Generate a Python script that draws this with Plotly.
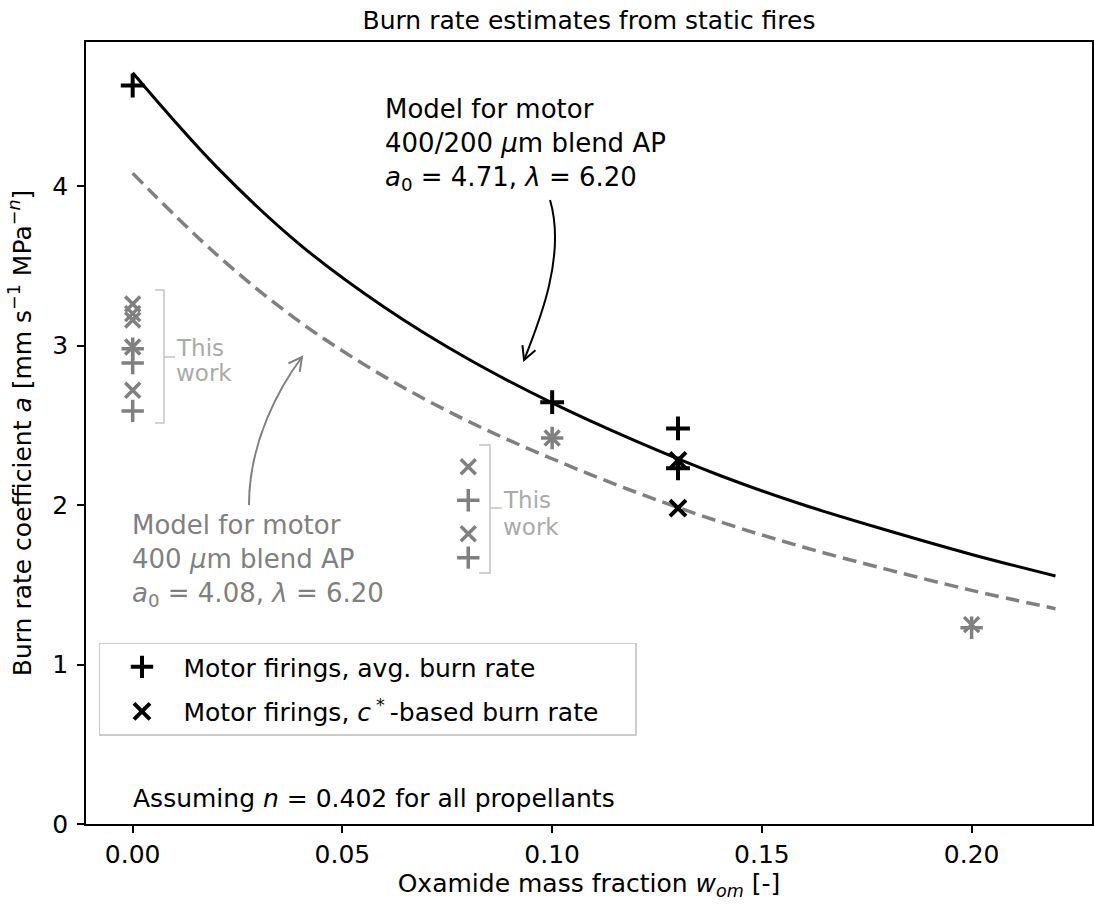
import plotly.graph_objects as go

# ---------------- data ----------------
w_model = [0.00, 0.02, 0.04, 0.06, 0.08, 0.10, 0.12, 0.14, 0.16, 0.18, 0.20, 0.22]
a_model_blend = [4.71, 4.12, 3.63, 3.24, 2.915, 2.64, 2.40, 2.185, 2.00, 1.84, 1.69, 1.555]
a_model_400 = [4.08, 3.57, 3.145, 2.805, 2.525, 2.29, 2.08, 1.895, 1.735, 1.595, 1.465, 1.35]

w_avg = [0.00, 0.10, 0.13, 0.13]
a_avg = [4.63, 2.645, 2.48, 2.23]
w_cstar = [0.13, 0.13]
a_cstar = [2.28, 1.98]

w_this_avg = [0.00, 0.00, 0.00, 0.08, 0.08, 0.10, 0.20]
a_this_avg = [2.98, 2.89, 2.59, 2.03, 1.67, 2.42, 1.23]
w_this_cstar = [0.00, 0.00, 0.00, 0.00, 0.00, 0.08, 0.08, 0.10, 0.20]
a_this_cstar = [3.26, 3.20, 3.16, 2.99, 2.72, 2.24, 1.82, 2.42, 1.25]

x_ticks = [0.00, 0.05, 0.10, 0.15, 0.20]
x_tick_labels = ["0.00", "0.05", "0.10", "0.15", "0.20"]
y_ticks = [0, 1, 2, 3, 4]
y_tick_labels = ["0", "1", "2", "3", "4"]

FONT = "DejaVu Sans"
GRAY = "#808080"
LIGHT = "#aaaaaa"
BRACKET = "#c4c4c4"
NB = "\u00a0"

fig = go.Figure()

fig.add_trace(go.Scatter(x=w_model, y=a_model_blend, mode="lines",
                         line=dict(color="black", width=3, shape="spline", smoothing=1.0),
                         showlegend=False, hoverinfo="skip"))
fig.add_trace(go.Scatter(x=w_model, y=a_model_400, mode="lines",
                         line=dict(color=GRAY, width=3.5, dash="14px,7px", shape="spline", smoothing=1.0),
                         showlegend=False, hoverinfo="skip"))

fig.add_trace(go.Scatter(x=w_this_avg, y=a_this_avg, mode="markers",
                         marker=dict(symbol="cross-thin", size=16, color=GRAY, line=dict(color=GRAY, width=3.5)),
                         showlegend=False))
fig.add_trace(go.Scatter(x=w_this_cstar, y=a_this_cstar, mode="markers",
                         marker=dict(symbol="x-thin", size=15, color=GRAY, line=dict(color=GRAY, width=3.5)),
                         showlegend=False))

fig.add_trace(go.Scatter(x=w_avg, y=a_avg, mode="markers", name="Motor firings, avg. burn rate",
                         legendgroup="avg",
                         marker=dict(symbol="cross-thin", size=17, color="black", line=dict(color="black", width=4))))
fig.add_trace(go.Scatter(x=w_cstar, y=a_cstar, mode="markers",
                         name="Motor firings, <i>c</i>\u2009<sup>*</sup>\u2009-based burn rate" + NB * 4,
                         legendgroup="cstar",
                         marker=dict(symbol="x-thin", size=16, color="black", line=dict(color="black", width=4))))

shapes = []
# curved arrow (black)
shapes.append(dict(type="path", xref="x", yref="y",
                   path="M 0.09950,3.912 C 0.10331,3.567 0.09711,3.160 0.09330,2.909",
                   line=dict(color="black", width=2)))
shapes.append(dict(type="path", xref="x", yref="y",
                   path="M 0.09602,2.970 L 0.09330,2.909 L 0.09292,3.003",
                   line=dict(color="black", width=2)))
# curved arrow (gray)
shapes.append(dict(type="path", xref="x", yref="y",
                   path="M 0.02773,2.000 C 0.02773,2.408 0.03536,2.752 0.04037,2.928",
                   line=dict(color=GRAY, width=2)))
shapes.append(dict(type="path", xref="x", yref="y",
                   path="M 0.03712,2.888 L 0.04037,2.928 L 0.03982,2.835",
                   line=dict(color=GRAY, width=2)))
# brackets
shapes.append(dict(type="path", xref="x", yref="y",
                   path="M 0.00532,3.348 L 0.00746,3.348 L 0.00746,2.514 L 0.00532,2.514 M 0.00746,2.928 L 0.01009,2.928",
                   line=dict(color=BRACKET, width=1.5)))
shapes.append(dict(type="path", xref="x", yref="y",
                   path="M 0.08257,2.376 L 0.08519,2.376 L 0.08519,1.574 L 0.08257,1.574 M 0.08519,1.981 L 0.08806,1.981",
                   line=dict(color=BRACKET, width=1.5)))

annotations = [
    dict(x=0.0597, y=4.262, xref="x", yref="y", xanchor="left", yanchor="middle", showarrow=False, align="left",
         text="Model for motor<br>400/200 <i>μ</i>m blend AP<br><i>a</i><sub>0</sub> = 4.71, <i>λ</i> = 6.20",
         font=dict(family=FONT, size=26, color="black")),
    dict(x=-0.0007, y=1.650, xref="x", yref="y", xanchor="left", yanchor="middle", showarrow=False, align="left",
         text="Model for motor<br>400 <i>μ</i>m blend AP<br><i>a</i><sub>0</sub> = 4.08, <i>λ</i> = 6.20",
         font=dict(family=FONT, size=26, color=GRAY)),
    dict(x=0.0098, y=2.985, xref="x", yref="y", xanchor="left", yanchor="middle", showarrow=False,
         text="This", font=dict(family=FONT, size=23, color=LIGHT)),
    dict(x=0.0098, y=2.828, xref="x", yref="y", xanchor="left", yanchor="middle", showarrow=False,
         text="work", font=dict(family=FONT, size=23, color=LIGHT)),
    dict(x=0.0878, y=2.030, xref="x", yref="y", xanchor="left", yanchor="middle", showarrow=False,
         text="This", font=dict(family=FONT, size=23, color=LIGHT)),
    dict(x=0.0878, y=1.865, xref="x", yref="y", xanchor="left", yanchor="middle", showarrow=False,
         text="work", font=dict(family=FONT, size=23, color=LIGHT)),
    dict(x=-0.0005, y=0.163, xref="x", yref="y", xanchor="left", yanchor="middle", showarrow=False, align="left",
         text="Assuming <i>n</i> = 0.402 for all propellants", font=dict(family=FONT, size=25, color="black")),
]

fig.update_layout(
    width=1094, height=905,
    margin=dict(l=86, r=2, t=42, b=81, autoexpand=False),
    plot_bgcolor="white", paper_bgcolor="white",
    font=dict(family=FONT, size=25, color="black"),
    title=dict(text="Burn rate estimates from static fires", x=0.5, xref="paper", xanchor="center",
               y=1 - 20 / 905, yref="container", yanchor="middle", font=dict(family=FONT, size=25, color="black")),
    shapes=shapes,
    annotations=annotations,
    legend=dict(x=0.0129, y=0.2320, xanchor="left", yanchor="top", bgcolor="rgba(255,255,255,0.8)",
                bordercolor="#cccccc", borderwidth=1.5, font=dict(family=FONT, size=25, color="black"),
                itemwidth=73, tracegroupgap=9),
)

fig.update_xaxes(range=[-0.01113, 0.2287], tickvals=x_ticks, ticktext=x_tick_labels,
                 showline=True, linecolor="black", linewidth=1.6, mirror=True,
                 ticks="outside", ticklen=7, tickwidth=1.6, tickcolor="black",
                 showgrid=False, zeroline=False,
                 title=dict(text="Oxamide mass fraction <i>w</i><sub><i>om</i></sub> [-]", standoff=6,
                            font=dict(family=FONT, size=25)))
fig.update_yaxes(range=[0, 4.903], tickvals=y_ticks, ticktext=y_tick_labels,
                 showline=True, linecolor="black", linewidth=1.6, mirror=True,
                 ticks="outside", ticklen=7, tickwidth=1.6, tickcolor="black",
                 showgrid=False, zeroline=False, ticklabelstandoff=4,
                 title=dict(text="Burn rate coefficient <i>a</i> [mm s<sup>−1</sup> MPa<sup>−<i>n</i></sup>]", standoff=14,
                            font=dict(family=FONT, size=25)))

fig.write_html("out.html")
